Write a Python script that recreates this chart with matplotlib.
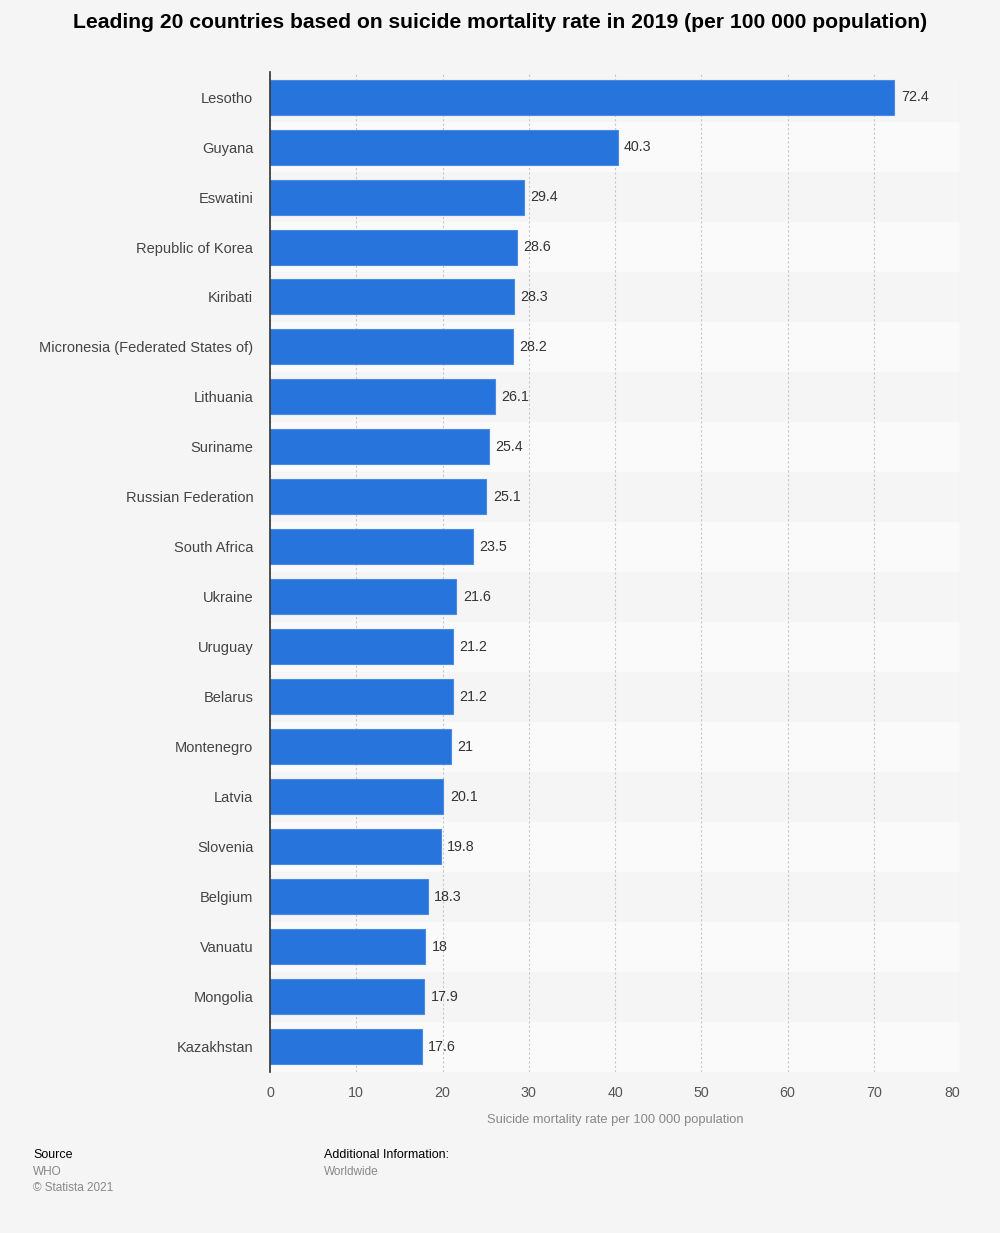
import matplotlib
matplotlib.use("Agg")
import matplotlib.pyplot as plt

countries = ["Lesotho", "Guyana", "Eswatini", "Republic of Korea", "Kiribati",
             "Micronesia (Federated States of)", "Lithuania", "Suriname",
             "Russian Federation", "South Africa", "Ukraine", "Uruguay", "Belarus",
             "Montenegro", "Latvia", "Slovenia", "Belgium", "Vanuatu", "Mongolia",
             "Kazakhstan"]
values = [72.4, 40.3, 29.4, 28.6, 28.3, 28.2, 26.1, 25.4, 25.1, 23.5, 21.6, 21.2,
          21.2, 21, 20.1, 19.8, 18.3, 18, 17.9, 17.6]
value_labels = ["72.4", "40.3", "29.4", "28.6", "28.3", "28.2", "26.1", "25.4", "25.1",
                "23.5", "21.6", "21.2", "21.2", "21", "20.1", "19.8", "18.3", "18",
                "17.9", "17.6"]
xticks = [0, 10, 20, 30, 40, 50, 60, 70, 80]

plt.rcParams['font.family'] = ['Liberation Sans', 'DejaVu Sans']
bg = "#f5f5f5"
fig = plt.figure(figsize=(10, 12.33), dpi=100, facecolor=bg)
ax = fig.add_axes([0.27, 0.1306, 0.69, 0.8110])
ax.set_facecolor(bg)

n = len(countries)
ypos = list(range(n))
for i in ypos:
    if i % 2 == 1:
        ax.axhspan(i - 0.5, i + 0.5, color="#fafafa", zorder=0, lw=0)

ax.barh(ypos, values, height=0.7, color="#2775dc", edgecolor="#4a8ae3", linewidth=0.8, zorder=3)
for i, (v, lab) in enumerate(zip(values, value_labels)):
    ax.text(v + 0.75, i, lab, va="center", ha="left", fontsize=10.3, color="#333333", zorder=4)

ax.set_ylim(n - 0.5, -0.5)
ax.set_xlim(0, 80)
ax.set_yticks(ypos)
ax.set_yticklabels(countries, fontsize=10.5, color="#444444")
ax.set_xticks(xticks)
ax.set_xticklabels([str(t) for t in xticks], fontsize=10.3, color="#555555")
ax.get_xticklabels()[-1].set_ha("right")
ax.tick_params(axis="y", length=0, pad=12)
ax.tick_params(axis="x", length=0, pad=10)
ax.grid(axis="x", color="#c8c8c8", linestyle=(0, (2, 2)), linewidth=0.8, zorder=1)
ax.set_axisbelow(True)
for s in ["top", "right", "bottom"]:
    ax.spines[s].set_visible(False)
ax.spines["left"].set_color("#333333")
ax.spines["left"].set_linewidth(1.2)
ax.spines["left"].set_zorder(5)

ax.set_xlabel("Suicide mortality rate per 100 000 population", fontsize=9.3, color="#888888", labelpad=10)

fig.text(0.5, 1 - 22 / 1233, "Leading 20 countries based on suicide mortality rate in 2019 (per 100 000 population)",
         ha="center", va="center", fontsize=15.2, fontweight="bold", color="#000000")

fig.text(0.033, 1 - 1155 / 1233, "Source", fontsize=9, color="#000000", va="center")
fig.text(0.033, 1 - 1172 / 1233, "WHO", fontsize=8.5, color="#888888", va="center")
fig.text(0.033, 1 - 1188 / 1233, "© Statista 2021", fontsize=8.5, color="#888888", va="center")
fig.text(0.324, 1 - 1155 / 1233, "Additional Information:", fontsize=9, color="#000000", va="center")
fig.text(0.324, 1 - 1172 / 1233, "Worldwide", fontsize=8.5, color="#888888", va="center")

fig.savefig("out.png", dpi=100, facecolor=bg)
